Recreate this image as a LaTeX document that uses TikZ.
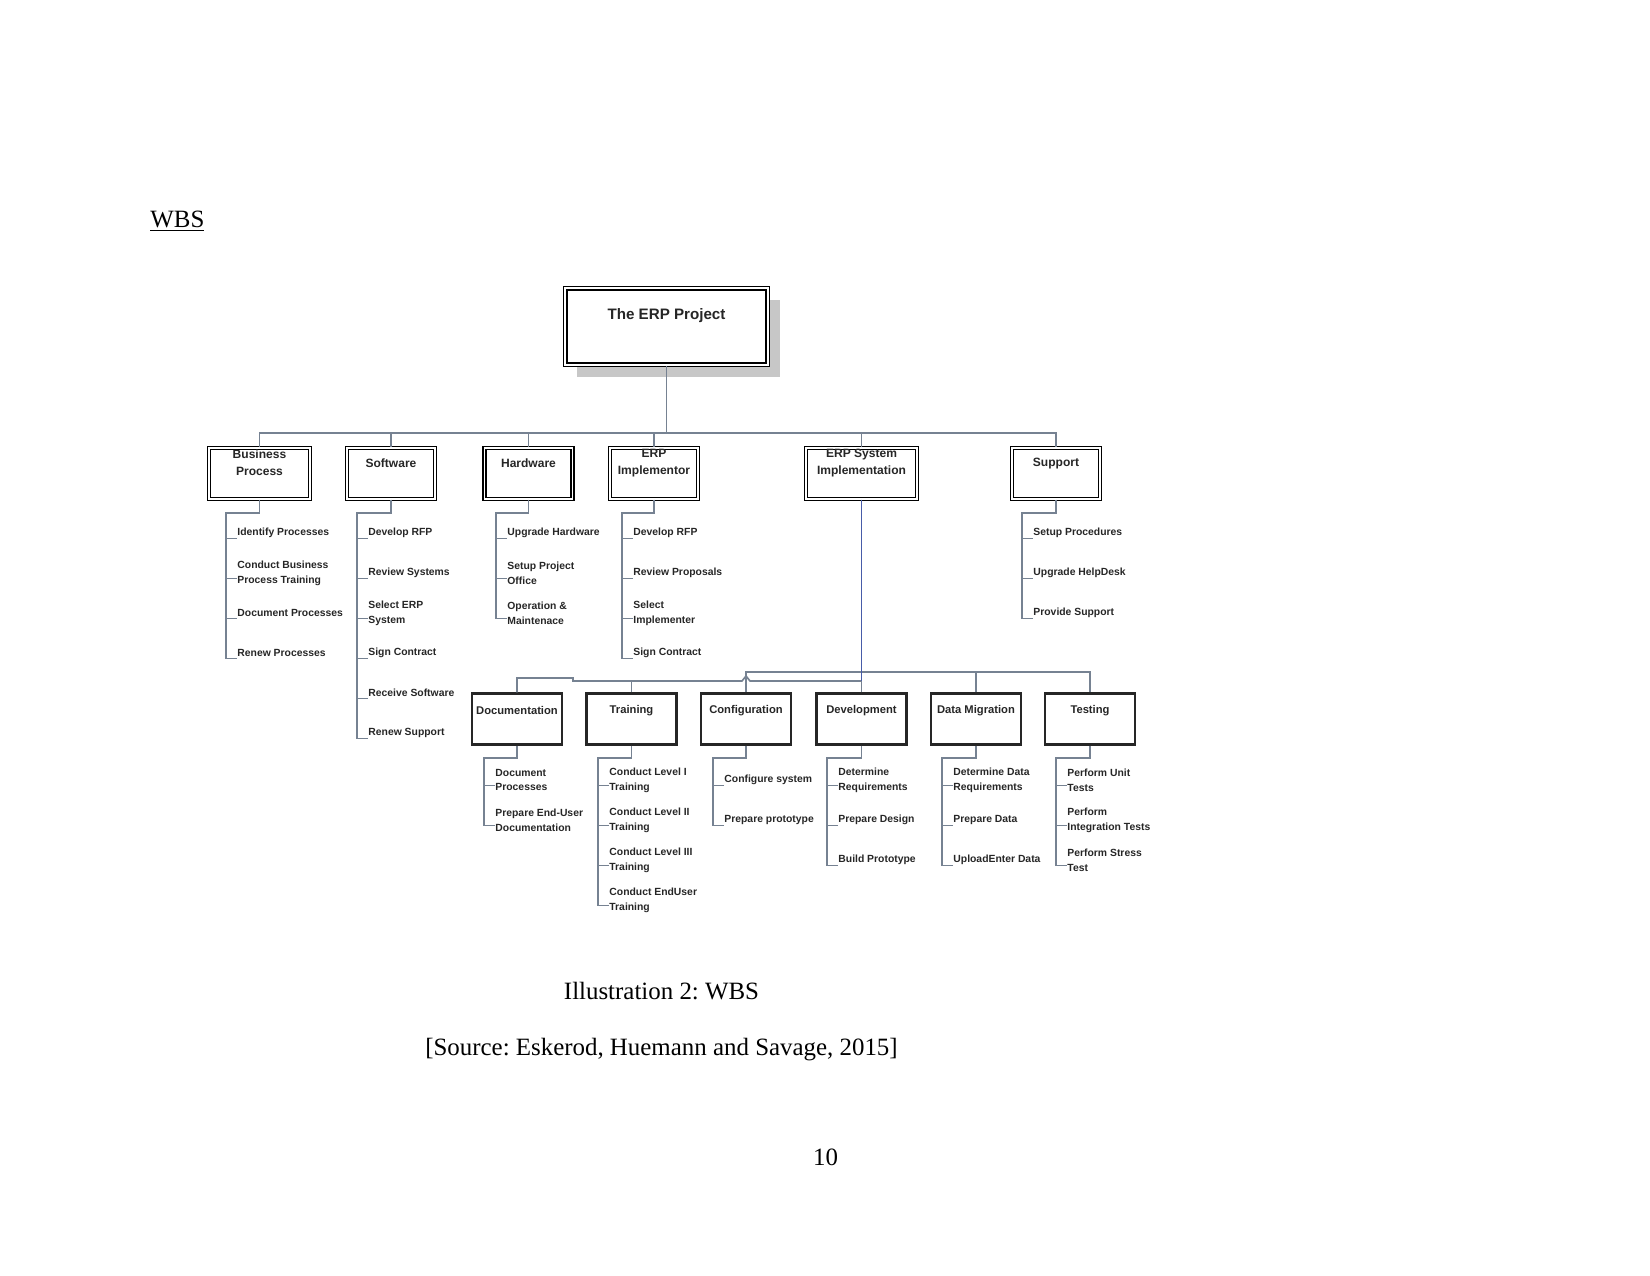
\documentclass[tikz,border=0pt]{standalone}
\usepackage{fontspec}
\setmainfont{Liberation Serif}
\newfontfamily\wbsfont{Liberation Sans}
\usetikzlibrary{shadows}
\frenchspacing
\definecolor{connc}{RGB}{118,130,146}
\definecolor{sysblue}{RGB}{72,92,168}
\tikzset{
    pagetext/.style={inner sep=0pt, font=\fontsize{12}{14.5}\selectfont},
    conn/.style={draw=connc, line width=0.8pt},
    sysline/.style={draw=sysblue, line width=0.8pt},
    topbox/.style={draw, line width=0.8pt, double, double distance=0.8pt, fill=white,
        minimum width=97.5pt, minimum height=37pt,
        drop shadow={shadow xshift=5.8pt, shadow yshift=-5.8pt, fill=black!22, opacity=1}},
    phase/.style={draw, line width=0.7pt, double, double distance=0.7pt, minimum width=42.5pt, minimum height=24.5pt},
    task/.style={draw=black!85, line width=1.2pt, minimum width=43.5pt, minimum height=24.5pt},
    toptext/.style={font=\wbsfont\bfseries\fontsize{7.3}{9}\selectfont, yshift=5.5pt, text=black!85},
    phasetext/.style={font=\wbsfont\bfseries\fontsize{5.8}{8.2}\selectfont, align=center, yshift=5pt, text=black!85},
    tasktext/.style={font=\wbsfont\bfseries\fontsize{5.4}{7}\selectfont, align=center, yshift=3.9pt, text=black!85},
    item/.style={anchor=west, inner sep=0pt, align=left, font=\wbsfont\bfseries\fontsize{5}{7.1}\selectfont, text=black!85},
}

\begin{document}
\begin{tikzpicture}[x=0.4818pt, y=-0.4818pt]
    \useasboundingbox (0,0) rectangle (1650,1275);

    \node[pagetext, anchor=base west] (heading) at (150,227) {\underline{WBS}};
    \node[pagetext, anchor=base] (caption) at (661.5,999) {Illustration 2: WBS};
    \node[pagetext, anchor=base] (source) at (661.5,1055) {[Source: Eskerod, Huemann and Savage, 2015]};
    \node[pagetext, anchor=base] (pageno) at (825.5,1165) {10};

    % top level and phases
    \node[topbox, label={[toptext]center:The ERP Project}] (erp) at (666.5,326.5) {};
    \node[phase, minimum width=48.6pt, label={[phasetext]center:{Business\\Process}}] (bp) at (259.5,473.5) {};
    \node[phase, label={[phasetext]center:Software}] (sw) at (391,473.5) {};
    \node[phase, label={[phasetext]center:Hardware}] (hw) at (528.5,473.5) {};
    \node[phase, label={[phasetext]center:{ERP\\Implementor}}] (ei) at (654,473.5) {};
    \node[phase, minimum width=53.5pt, label={[phasetext]center:{ERP System\\Implementation}}] (esi) at (861.5,473.5) {};
    \node[phase, label={[phasetext]center:Support}] (su) at (1056,473.5) {};

    \coordinate (bus) at (0,433);
    \draw[conn] (erp.south) -- (erp.south |- bus);
    \draw[conn] (bp.north) |- (su.north |- bus) -- (su.north);
    \foreach \n in {sw,hw,ei,esi}
        \draw[conn] (\n.north) -- (\n.north |- bus);

    % work packages under the phases
    \draw[conn] (bp.south) |- (226,513) -- (226,658.5);
    \foreach \t [count=\i] in {Identify Processes, {Conduct Business\\Process Training}, Document Processes, Renew Processes} {
        \node[item] (bp\i) at (237,{493+40*\i}) {\t};
        \draw[conn] ([yshift=-2.6pt]bp\i.west) -- ++(-11,0);
    }
    \draw[conn] (sw.south) |- (357,513) -- (357,738.5);
    \foreach \t [count=\i] in {Develop RFP, Review Systems, {Select ERP\\System}, Sign Contract, Receive Software, Renew Support} {
        \node[item] (sw\i) at (368,{493+40*\i}) {\t};
        \draw[conn] ([yshift=-2.6pt]sw\i.west) -- ++(-11,0);
    }
    \draw[conn] (hw.south) |- (496,513) -- (496,618.5);
    \foreach \t [count=\i] in {Upgrade Hardware, {Setup Project\\Office}, {Operation \&\\Maintenace}} {
        \node[item] (hw\i) at (507,{493+40*\i}) {\t};
        \draw[conn] ([yshift=-2.6pt]hw\i.west) -- ++(-11,0);
    }
    \draw[conn] (ei.south) |- (622,513) -- (622,658.5);
    \foreach \t [count=\i] in {Develop RFP, Review Proposals, {Select\\Implementer}, Sign Contract} {
        \node[item] (ei\i) at (633,{493+40*\i}) {\t};
        \draw[conn] ([yshift=-2.6pt]ei\i.west) -- ++(-11,0);
    }
    \draw[conn] (su.south) |- (1022,513) -- (1022,618.5);
    \foreach \t [count=\i] in {Setup Procedures, Upgrade HelpDesk, Provide Support} {
        \node[item] (su\i) at (1033,{493+40*\i}) {\t};
        \draw[conn] ([yshift=-2.6pt]su\i.west) -- ++(-11,0);
    }

    % system implementation breakdown
    \node[task, label={[tasktext]center:Documentation}] (doc) at (517,719) {};
    \node[task, label={[tasktext]center:Training}] (tr) at (631.5,719) {};
    \node[task, label={[tasktext]center:Configuration}] (cf) at (746,719) {};
    \node[task, label={[tasktext]center:Development}] (dv) at (861.5,719) {};
    \node[task, label={[tasktext]center:Data Migration}] (dm) at (976,719) {};
    \node[task, label={[tasktext]center:Testing}] (ts) at (1090,719) {};

    \coordinate (upbus) at (0,672);
    \coordinate (lowbus) at (0,681);
    \draw[conn] (cf.north) |- (ts.north |- upbus) -- (ts.north);
    \draw[conn] (dm.north) -- (dm.north |- upbus);
    \draw[conn] (doc.north) |- (573,678) -- (573,681) -- (742,681) -- (746,676) -- (750,681) -- (dv.north |- lowbus);
    \draw[conn] (tr.north) -- (tr.north |- lowbus);
    \draw[conn] (dv.north) -- (dv.north |- lowbus);
    \draw[sysline] (esi.south) -- (esi.south |- lowbus);

    \draw[conn] (doc.south) |- (484,758) -- (484,825.5);
    \foreach \t [count=\i] in {{Document\\Processes}, {Prepare End-User\\Documentation}} {
        \node[item] (doc\i) at (495,{740+40*\i}) {\t};
        \draw[conn] ([yshift=-2.6pt]doc\i.west) -- ++(-11,0);
    }
    \draw[conn] (tr.south) |- (598,758) -- (598,905.5);
    \foreach \t [count=\i] in {{Conduct Level I\\Training}, {Conduct Level II\\Training}, {Conduct Level III\\Training}, {Conduct EndUser\\Training}} {
        \node[item] (tr\i) at (609,{740+40*\i}) {\t};
        \draw[conn] ([yshift=-2.6pt]tr\i.west) -- ++(-11,0);
    }
    \draw[conn] (cf.south) |- (713,758) -- (713,825.5);
    \foreach \t [count=\i] in {Configure system, Prepare prototype} {
        \node[item] (cf\i) at (724,{740+40*\i}) {\t};
        \draw[conn] ([yshift=-2.6pt]cf\i.west) -- ++(-11,0);
    }
    \draw[conn] (dv.south) |- (827,758) -- (827,865.5);
    \foreach \t [count=\i] in {{Determine\\Requirements}, Prepare Design, Build Prototype} {
        \node[item] (dv\i) at (838,{740+40*\i}) {\t};
        \draw[conn] ([yshift=-2.6pt]dv\i.west) -- ++(-11,0);
    }
    \draw[conn] (dm.south) |- (942,758) -- (942,865.5);
    \foreach \t [count=\i] in {{Determine Data\\Requirements}, Prepare Data, UploadEnter Data} {
        \node[item] (dm\i) at (953,{740+40*\i}) {\t};
        \draw[conn] ([yshift=-2.6pt]dm\i.west) -- ++(-11,0);
    }
    \draw[conn] (ts.south) |- (1056,758) -- (1056,865.5);
    \foreach \t [count=\i] in {{Perform Unit\\Tests}, {Perform\\Integration Tests}, {Perform Stress\\Test}} {
        \node[item] (ts\i) at (1067,{740+40*\i}) {\t};
        \draw[conn] ([yshift=-2.6pt]ts\i.west) -- ++(-11,0);
    }
\end{tikzpicture}
\end{document}
